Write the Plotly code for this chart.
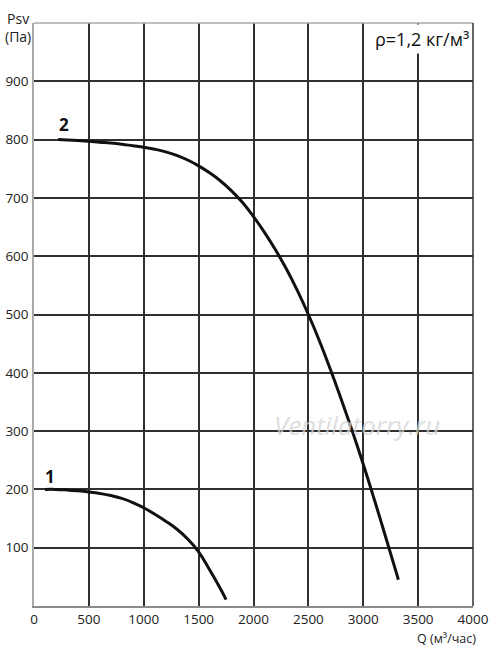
import plotly.graph_objects as go

# Curve 1
q1 = [100, 200, 300, 400, 500, 600, 700, 800, 900, 1000, 1100, 1200, 1300, 1400, 1500, 1600, 1700, 1750]
p1 = [200, 200, 199, 197.5, 195.5, 193, 189.5, 184.5, 177.5, 168.5, 157.5, 145.5, 132, 115, 93, 62, 29, 11]

# Curve 2
q2 = [220, 300, 400, 500, 600, 700, 800, 900, 1000, 1100, 1200, 1300, 1400, 1500, 1600, 1700, 1800,
      1900, 2000, 2100, 2200, 2300, 2400, 2500, 2600, 2700, 2800, 2900, 3000, 3100, 3200, 3300, 3320]
p2 = [800, 799.5, 798.5, 797, 795.5, 794, 792, 789.5, 787, 783.5, 779, 773, 765, 755, 743, 729, 712,
      692, 668, 641, 611, 578, 541, 500, 455, 406, 354, 300, 243, 183, 121, 58, 45]

x_ticks = [0, 500, 1000, 1500, 2000, 2500, 3000, 3500, 4000]
y_ticks = [100, 200, 300, 400, 500, 600, 700, 800, 900]

FONT = "Open Sans"
GRID = "#303030"
fig = go.Figure()

fig.add_trace(go.Scatter(x=q1, y=p1, mode="lines", line=dict(color="#111111", width=3, shape="spline", smoothing=1.3),
                         hoverinfo="skip", showlegend=False))
fig.add_trace(go.Scatter(x=q2, y=p2, mode="lines", line=dict(color="#111111", width=3, shape="spline", smoothing=1.3),
                         hoverinfo="skip", showlegend=False))

fig.update_layout(
    width=500, height=650,
    margin=dict(l=34, r=27, t=23, b=44),
    paper_bgcolor="white", plot_bgcolor="white",
    font=dict(family=FONT, size=13.5, color="#222222"),
    xaxis=dict(range=[0, 4000], tickvals=x_ticks, ticktext=[str(v) for v in x_ticks],
               showgrid=True, gridcolor=GRID, gridwidth=1.5,
               showline=True, linecolor="#8a8a8a", linewidth=1.5,
               zeroline=False, ticks="", ticklabelstandoff=0, automargin=False,
               tickfont=dict(family=FONT, size=13.5, color="#222222")),
    yaxis=dict(range=[0, 1000], tickvals=y_ticks, ticktext=[str(v) for v in y_ticks],
               showgrid=True, gridcolor=GRID, gridwidth=1.5,
               showline=True, linecolor="#aaaaaa", linewidth=1.5,
               zeroline=False, ticks="", ticklabelstandoff=1, automargin=False,
               tickfont=dict(family=FONT, size=13.5, color="#222222")),
    shapes=[
        dict(type="line", xref="paper", yref="paper", x0=0, x1=1, y0=1, y1=1,
             line=dict(color="#aaaaaa", width=1.5)),
        dict(type="line", xref="paper", yref="paper", x0=1, x1=1, y0=0, y1=1,
             line=dict(color=GRID, width=1.5)),
    ],
    annotations=[
        dict(text="<i>Ventilatorry.ru</i>", xref="paper", yref="paper", x=0.736, y=0.31,
             xanchor="center", yanchor="middle",
             showarrow=False, font=dict(family=FONT, size=26, color="#d4d4d4"),
             opacity=0.75),
        dict(text="ρ=1,2 кг/м³", xref="paper", yref="paper", x=1, y=1,
             xanchor="right", yanchor="top", showarrow=False, xshift=-1, yshift=-1,
             font=dict(family=FONT, size=18, color="#111111"),
             bgcolor="white", borderpad=2),
        dict(text="Psv<br>(Па)", xref="paper", yref="paper", x=0, y=1,
             xanchor="right", yanchor="top", showarrow=False, xshift=-1, yshift=16,
             align="center", font=dict(family=FONT, size=14, color="#222222")),
        dict(text="Q (м³/час)", xref="paper", yref="paper", x=1, y=0,
             xanchor="right", yanchor="middle", showarrow=False, xshift=5, yshift=-32,
             font=dict(family=FONT, size=12.5, color="#222222")),
        dict(text="<b>1</b>", x=150, y=222, showarrow=False,
             font=dict(family=FONT, size=17, color="#111111")),
        dict(text="<b>2</b>", x=270, y=826, showarrow=False,
             font=dict(family=FONT, size=17, color="#111111")),
    ],
)

fig.write_html("out.html", config={"displayModeBar": False},
               post_script="document.body.style.margin='0px';document.body.style.overflow='hidden';")
